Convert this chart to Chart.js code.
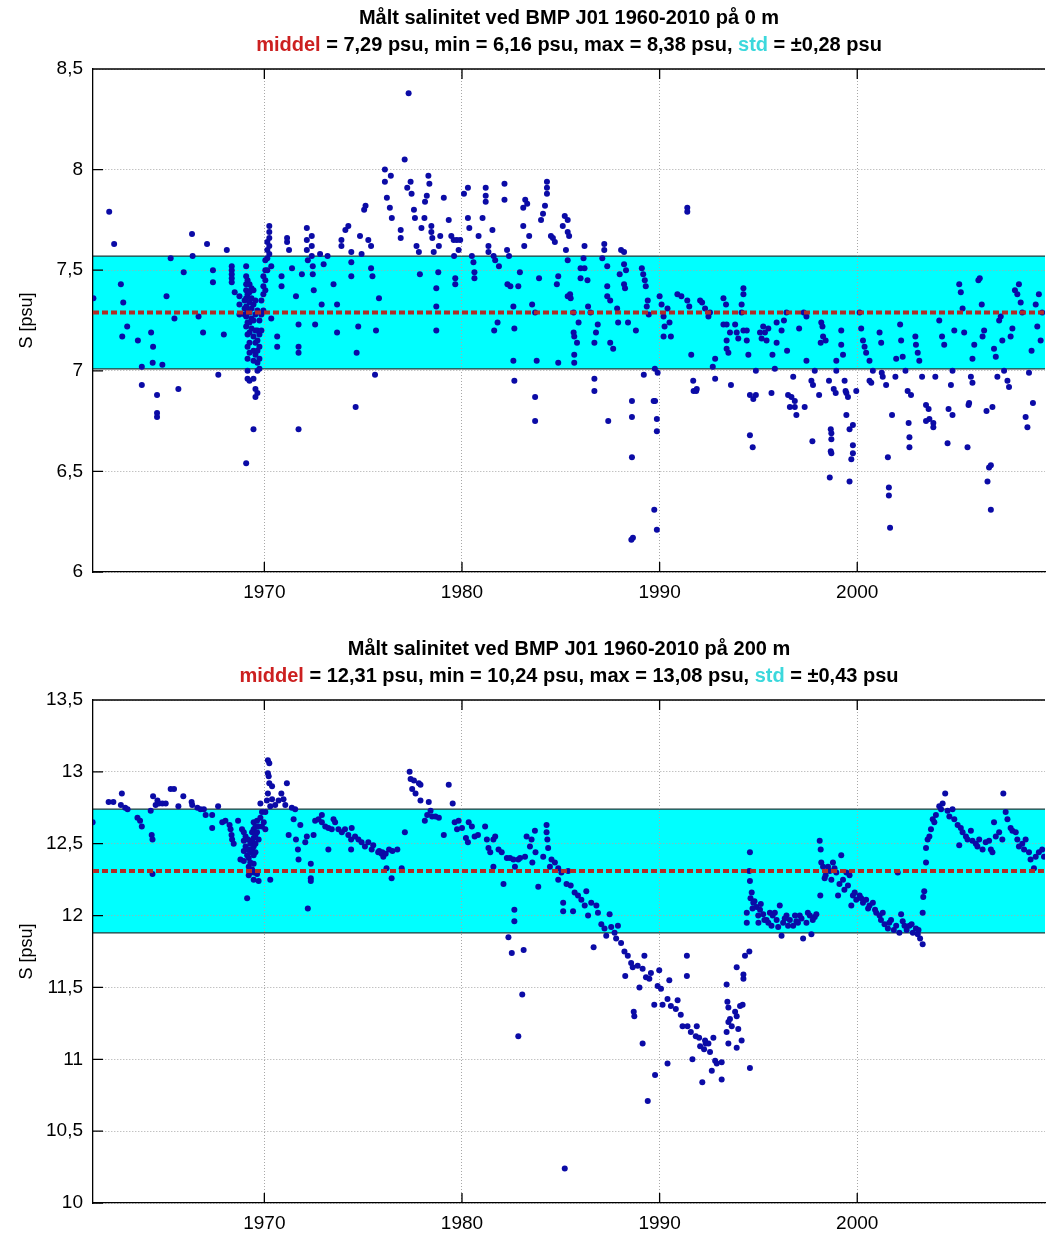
<!DOCTYPE html>
<html>
<head>
<meta charset="utf-8">
<script src="https://cdn.jsdelivr.net/npm/chart.js@4.4.0/dist/chart.umd.min.js"></script>
<style>
  body { margin: 0; background: #fff; overflow: hidden; }
  canvas { display: block; }
</style>
</head>
<body>
<canvas id="chart0" width="1049" height="631"></canvas>
<canvas id="chart200" width="1049" height="606"></canvas>
<script>
// x axis (years)
const xRange = [1961.33, 2009.5];
const xTicks = [1970, 1980, 1990, 2000];

// 0 m
const depth0 = 0;
const mean0 = 7.29, min0 = 6.16, max0 = 8.38, std0 = 0.28;
const yTicks0 = [6, 6.5, 7, 7.5, 8, 8.5];
const obs0 = [
  [1961.35,7.36],[1962.15,7.79],[1962.4,7.63],[1962.74,7.43],[1962.86,7.34],[1962.81,7.17],[1963.06,7.22],[1963.6,7.15],
  [1963.8,7.02],[1963.8,6.93],[1964.27,7.19],[1964.37,7.12],[1964.35,7.04],[1964.57,6.88],[1964.57,6.79],[1964.57,6.77],
  [1964.84,7.03],[1965.05,7.37],[1965.26,7.56],[1965.45,7.26],[1965.65,6.91],[1965.92,7.49],[1966.34,7.68],[1966.37,7.57],
  [1966.67,7.27],[1966.9,7.19],[1967.1,7.63],[1967.4,7.50],[1967.4,7.44],[1967.67,6.98],[1967.95,7.18],[1968.1,7.60],
  [1968.35,7.52],[1968.35,7.50],[1968.35,7.48],[1968.35,7.46],[1968.35,7.44],[1968.5,7.39],[1968.74,7.37],[1968.74,7.33],
  [1968.74,7.28],[1969.0,7.35],[1969.0,7.31],[1969.0,7.28],
  [1969.08,7.52],[1969.08,7.47],[1969.08,7.43],[1969.08,7.40],[1969.08,7.36],[1969.08,7.32],[1969.08,7.27],[1969.08,7.22],[1969.08,6.54],
  [1969.15,7.45],[1969.15,7.38],[1969.15,7.30],[1969.15,7.24],[1969.15,7.18],[1969.15,7.12],[1969.15,7.06],[1969.15,7.00],[1969.15,6.96],
  [1969.25,7.43],[1969.25,7.39],[1969.25,7.34],[1969.25,7.29],[1969.25,7.24],[1969.25,7.19],[1969.25,7.14],[1969.25,7.09],[1969.25,6.95],
  [1969.35,7.41],[1969.35,7.36],[1969.35,7.31],[1969.35,7.26],[1969.35,7.21],
  [1969.45,7.40],[1969.45,7.33],[1969.45,7.25],[1969.45,7.17],[1969.45,7.10],[1969.45,7.05],[1969.45,6.96],[1969.45,6.71],
  [1969.55,7.35],[1969.55,7.28],[1969.55,7.20],[1969.55,7.14],[1969.55,7.08],[1969.55,6.91],[1969.55,6.87],
  [1969.65,7.30],[1969.65,7.20],[1969.65,7.15],[1969.65,7.10],[1969.65,7.04],[1969.65,7.00],[1969.65,6.89],
  [1969.75,7.25],[1969.75,7.18],[1969.75,7.12],[1969.75,7.06],[1969.75,7.01],
  [1969.85,7.20],[1969.85,7.28],[1969.85,7.35],[1969.95,7.30],[1969.95,7.38],[1969.95,7.42],[1969.95,7.47],
  [1970.05,7.40],[1970.05,7.45],[1970.05,7.50],[1970.05,7.55],[1970.15,7.50],[1970.15,7.56],[1970.15,7.60],[1970.15,7.64],
  [1970.25,7.58],[1970.25,7.62],[1970.25,7.66],[1970.25,7.69],[1970.25,7.72],
  [1970.35,7.52],[1970.35,7.26],[1970.65,7.17],[1970.65,7.12],[1970.87,7.47],[1970.87,7.42],[1971.15,7.66],[1971.15,7.64],
  [1971.25,7.60],[1971.4,7.51],[1971.6,7.37],[1971.73,7.23],[1971.73,7.12],[1971.73,7.09],[1971.73,6.71],[1971.9,7.48],
  [1972.15,7.71],[1972.15,7.65],[1972.15,7.60],[1972.2,7.55],[1972.4,7.67],[1972.4,7.62],[1972.4,7.57],[1972.45,7.52],
  [1972.45,7.48],[1972.5,7.40],[1972.57,7.23],[1972.82,7.58],[1972.9,7.33],[1973.0,7.53],[1973.2,7.57],[1973.5,7.43],
  [1973.68,7.33],[1973.68,7.19],[1973.9,7.65],[1973.9,7.62],[1974.1,7.70],[1974.25,7.72],[1974.4,7.59],[1974.4,7.54],
  [1974.4,7.47],[1974.62,6.82],[1974.67,7.09],[1974.75,7.22],[1974.84,7.67],[1974.92,7.58],[1975.05,7.80],[1975.12,7.82],
  [1975.26,7.65],[1975.4,7.62],[1975.4,7.51],[1975.47,7.47],[1975.6,6.98],[1975.65,7.20],[1975.8,7.36],
  [1976.1,8.0],[1976.1,7.94],[1976.2,7.86],[1976.4,7.97],[1976.35,7.81],[1976.45,7.76],[1976.9,7.70],[1976.9,7.66],
  [1977.1,8.05],[1977.3,8.38],[1977.23,7.91],[1977.4,7.94],[1977.45,7.88],[1977.57,7.80],[1977.62,7.76],[1977.7,7.62],
  [1977.82,7.59],[1977.87,7.48],[1977.95,7.71],[1978.1,7.76],[1978.13,7.84],[1978.22,7.87],[1978.3,7.97],[1978.35,7.93],
  [1978.45,7.72],[1978.45,7.69],[1978.5,7.66],[1978.57,7.59],[1978.7,7.41],[1978.7,7.32],[1978.7,7.20],[1978.8,7.49],
  [1978.83,7.62],[1978.9,7.67],[1979.08,7.86],[1979.33,7.75],[1979.46,7.67],[1979.58,7.65],[1979.6,7.57],[1979.66,7.46],
  [1979.66,7.43],[1979.74,7.65],[1979.83,7.60],[1979.91,7.65],[1980.1,7.88],[1980.3,7.91],[1980.3,7.76],[1980.37,7.71],
  [1980.5,7.57],[1980.58,7.54],[1980.63,7.49],[1980.63,7.46],[1980.84,7.67],[1981.04,7.76],[1981.2,7.91],[1981.2,7.87],
  [1981.2,7.84],[1981.34,7.62],[1981.34,7.59],[1981.54,7.70],[1981.6,7.57],[1981.68,7.55],[1981.63,7.20],[1981.8,7.24],
  [1981.87,7.52],[1982.15,7.93],[1982.15,7.85],[1982.28,7.60],[1982.38,7.57],[1982.3,7.43],[1982.45,7.42],[1982.6,7.32],
  [1982.6,7.05],[1982.65,7.21],[1982.65,6.95],[1982.85,7.42],[1982.93,7.49],[1983.1,7.81],[1983.1,7.72],[1983.2,7.85],
  [1983.3,7.83],[1983.4,7.67],[1983.15,7.62],[1983.55,7.33],[1983.7,7.29],[1983.7,6.87],[1983.7,6.75],[1983.78,7.05],
  [1983.9,7.46],[1984.0,7.75],[1984.1,7.78],[1984.2,7.82],[1984.3,7.88],[1984.3,7.94],[1984.3,7.91],[1984.5,7.67],
  [1984.6,7.66],[1984.7,7.64],[1984.87,7.47],[1984.87,7.04],[1984.8,7.43],[1985.1,7.72],[1985.2,7.77],[1985.35,7.75],
  [1985.35,7.69],[1985.42,7.67],[1985.26,7.60],[1985.35,7.55],[1985.47,7.38],[1985.35,7.37],[1985.5,7.36],[1985.65,7.29],
  [1985.65,7.19],[1985.68,7.17],[1985.82,7.14],[1985.68,7.08],[1985.68,7.04],[1985.9,7.24],[1986.2,7.62],[1986.15,7.56],
  [1986.0,7.51],[1986.2,7.51],[1986.0,7.46],[1986.35,7.45],[1986.38,7.32],[1986.5,7.29],[1986.7,6.96],[1986.7,6.90],
  [1986.78,7.19],[1986.7,7.14],[1986.87,7.23],[1987.2,7.63],[1987.2,7.60],[1987.1,7.56],[1987.35,7.52],[1987.35,7.42],
  [1987.35,7.37],[1987.5,7.35],[1987.4,6.75],[1987.5,7.14],[1987.65,7.11],[1987.85,7.31],[1987.9,7.24],[1987.98,7.48],
  [1988.05,7.60],[1988.2,7.59],[1988.2,7.53],[1988.2,7.43],[1988.25,7.41],[1988.3,7.50],[1988.4,7.24],[1988.6,6.85],
  [1988.6,6.77],[1988.6,6.57],[1988.8,7.20],[1988.65,6.17],[1988.57,6.16],[1989.1,7.51],[1989.17,7.48],[1989.25,7.45],
  [1989.3,7.42],[1989.4,7.35],[1989.2,6.98],[1989.35,7.32],[1989.45,7.28],[1989.7,6.85],[1989.77,6.85],[1989.86,6.76],
  [1989.86,6.70],[1989.73,6.31],[1989.86,6.21],[1989.76,7.01],[1989.9,6.99],[1990.0,7.37],[1990.1,7.33],[1990.2,7.27],
  [1990.25,7.22],[1990.2,7.17],[1990.4,7.31],[1990.5,7.24],[1990.57,7.17],[1990.9,7.38],[1991.1,7.37],[1991.4,7.81],
  [1991.4,7.79],[1991.4,7.35],[1991.5,7.32],[1991.6,7.08],[1991.7,6.95],[1991.85,6.90],[1991.72,6.90],[1992.15,7.34],
  [1992.3,7.31],
  [1991.88,6.91],[1992.05,7.35],[1992.55,7.29],[1992.47,7.27],[1992.69,7.02],[1992.81,7.06],[1992.81,6.96],[1993.23,7.36],
  [1993.36,7.33],[1993.23,7.23],[1993.39,7.23],[1993.39,7.15],[1993.39,7.11],[1993.48,7.09],[1993.56,7.19],[1993.61,6.93],
  [1993.82,7.23],[1993.9,7.19],[1993.98,7.16],[1994.24,7.41],[1994.24,7.38],[1994.15,7.33],[1994.15,7.29],[1994.24,7.20],
  [1994.41,7.20],[1994.41,7.15],[1994.49,7.08],[1994.57,6.68],[1994.71,6.62],[1994.57,6.88],[1994.74,6.86],[1994.87,6.88],
  [1994.87,7.00],[1995.08,7.19],[1995.16,7.16],[1995.24,7.22],[1995.33,7.19],[1995.41,7.15],[1995.5,7.21],[1995.66,6.89],
  [1995.71,7.08],[1995.83,7.01],[1995.92,7.24],[1995.92,7.14],[1996.17,7.20],[1996.29,7.25],[1996.42,7.29],[1996.45,7.10],
  [1996.5,6.88],[1996.67,6.87],[1996.84,6.85],[1996.59,6.82],[1996.84,6.82],[1996.92,6.78],[1996.76,6.97],[1997.06,7.21],
  [1997.29,7.29],[1997.43,7.27],[1997.34,6.82],[1997.43,7.05],[1997.68,6.95],[1997.76,6.93],[1997.73,6.65],[1997.85,7.00],
  [1998.07,6.88],[1998.18,7.24],[1998.24,7.22],[1998.27,7.17],[1998.4,7.15],[1998.15,7.14],[1998.57,6.95],[1998.61,6.47],
  [1998.66,6.71],[1998.69,6.69],[1998.69,6.66],[1998.66,6.60],[1998.69,6.59],[1998.81,6.91],[1998.91,6.89],[1998.94,7.00],
  [1998.94,7.05],[1999.19,7.20],[1999.19,7.13],[1999.28,7.08],[1999.36,6.95],[1999.41,6.90],[1999.45,6.89],[1999.53,6.87],
  [1999.45,6.78],[1999.61,6.71],[1999.61,6.45],[1999.7,6.56],[1999.78,6.59],[1999.78,6.63],[1999.78,6.73],[1999.95,6.90],
  [2000.12,7.29],[2000.2,7.21],[2000.29,7.15],[2000.37,7.12],[2000.45,7.09],[2000.62,7.05],[2000.62,6.95],[2000.71,6.94],
  [2000.79,7.00],[2001.13,7.19],[2001.21,7.14],[2001.24,6.99],[2001.29,6.97],[2001.55,6.57],[2001.6,6.42],[2001.6,6.38],
  [2001.66,6.22],[2001.46,6.93],[2001.76,6.78],[2001.93,6.97],[2001.97,7.06],[2002.17,7.23],[2002.22,7.15],[2002.3,7.07],
  [2002.44,7.00],[2002.55,6.90],[2002.72,6.88],[2002.6,6.74],[2002.64,6.67],[2002.64,6.62],[2002.94,7.17],[2002.97,7.13],
  [2003.06,7.09],[2003.14,7.05],[2003.28,6.97],[2003.48,6.83],[2003.61,6.81],[2003.48,6.75],[2003.65,6.76],[2003.85,6.74],
  [2003.85,6.72],[2003.95,6.97],[2004.15,7.25],[2004.29,7.17],[2004.4,7.13],[2004.57,6.64],[2004.62,6.81],[2004.82,6.78],
  [2004.74,6.93],[2004.82,7.00],[2004.91,7.20],[2005.16,7.43],[2005.24,7.39],[2005.33,7.31],[2005.41,7.19],[2005.58,6.62],
  [2005.63,6.83],[2005.66,6.84],[2005.75,6.97],[2005.83,6.94],[2005.83,7.06],[2005.92,7.13],[2006.13,7.45],[2006.2,7.46],
  [2006.3,7.33],[2006.34,7.17],[2006.42,7.20],[2006.54,6.80],[2006.59,6.45],[2006.76,6.53],[2006.67,6.52],[2006.76,6.31],
  [2006.84,6.82],[2006.92,7.11],[2007.01,7.07],[2007.09,6.97],[2007.18,7.25],[2007.26,7.27],[2007.34,7.15],[2007.43,7.00],
  [2007.6,6.95],[2007.68,6.92],[2007.76,7.17],[2007.85,7.21],[2007.98,7.40],[2008.1,7.38],[2008.18,7.43],[2008.27,7.34],
  [2008.35,7.29],[2008.52,6.77],[2008.61,6.72],[2008.69,6.99],[2008.82,7.10],[2008.89,6.84],[2009.03,7.33],[2009.11,7.22],
  [2009.19,7.38],[2009.28,7.15],[2009.36,7.29]
];

// 200 m
const depth200 = 200;
const mean200 = 12.31, min200 = 10.24, max200 = 13.08, std200 = 0.43;
const yTicks200 = [10, 10.5, 11, 11.5, 12, 12.5, 13, 13.5];
const obs200 = [
  [1961.31,12.65],[1962.12,12.79],[1962.36,12.79],[1962.79,12.85],[1962.74,12.77],[1962.96,12.75],[1963.08,12.74],[1963.58,12.68],
  [1963.71,12.66],[1963.8,12.62],[1964.25,12.73],[1964.37,12.83],[1964.5,12.77],[1964.59,12.80],[1964.67,12.78],[1964.3,12.56],
  [1964.34,12.53],[1964.34,12.29],[1964.84,12.78],[1965.01,12.78],[1965.26,12.88],[1965.43,12.88],[1965.65,12.76],[1965.9,12.83],
  [1966.32,12.79],[1966.35,12.77],[1966.61,12.75],[1966.77,12.74],[1966.94,12.74],[1967.03,12.70],[1967.36,12.70],[1967.36,12.61],
  [1967.66,12.76],[1967.87,12.65],[1968.03,12.66],[1968.24,12.63],[1968.29,12.60],[1968.34,12.56],[1968.37,12.53],[1968.45,12.50],
  [1968.67,12.66],[1968.79,12.39],[1968.87,12.60],
  [1968.96,12.58],[1968.96,12.52],[1968.96,12.45],[1968.96,12.38],[1969.05,12.55],[1969.05,12.48],[1969.13,12.12],[1969.13,12.42],
  [1969.18,12.53],[1969.18,12.46],[1969.21,12.40],[1969.21,12.34],[1969.21,12.28],[1969.29,12.50],[1969.29,12.44],[1969.29,12.37],
  [1969.29,12.30],[1969.38,12.58],[1969.38,12.52],[1969.38,12.46],[1969.38,12.32],[1969.46,12.65],[1969.46,12.60],[1969.46,12.54],
  [1969.46,12.48],[1969.46,12.42],[1969.46,12.36],[1969.46,12.30],[1969.46,12.25],[1969.55,12.62],[1969.55,12.56],[1969.55,12.50],
  [1969.55,12.44],[1969.63,12.29],[1969.63,12.58],[1969.63,12.66],[1969.71,12.24],[1969.71,12.53],[1969.71,12.62],[1969.8,12.78],
  [1969.8,12.68],[1969.88,12.72],[1969.88,12.62],[1969.97,12.65],[1970.05,12.60],[1970.05,12.72],[1970.13,12.80],[1970.18,13.08],
  [1970.25,13.06],[1970.18,12.99],[1970.22,12.97],[1970.25,12.92],[1970.39,12.90],[1970.18,12.85],[1970.39,12.81],[1970.3,12.25],
  [1970.3,12.76],[1970.55,12.77],[1970.72,12.80],[1970.86,12.85],[1970.97,12.81],[1971.06,12.77],[1971.14,12.92],[1971.23,12.56],
  [1971.39,12.75],[1971.48,12.67],[1971.56,12.74],[1971.6,12.53],[1971.7,12.46],[1971.73,12.39],[1971.82,12.63],[1972.07,12.51],
  [1972.2,12.05],[1972.15,12.55],[1972.35,12.36],[1972.35,12.26],[1972.35,12.24],[1972.49,12.56],[1972.57,12.66],[1972.74,12.67],
  [1972.91,12.65],[1972.91,12.70],[1973.08,12.62],[1973.24,12.61],[1973.41,12.60],[1973.24,12.46],[1973.5,12.67],[1973.58,12.65],
  [1973.75,12.60],[1973.92,12.58],[1974.08,12.60],[1974.25,12.56],[1974.39,12.53],[1974.39,12.46],[1974.42,12.61],[1974.59,12.55],
  [1974.76,12.53],[1974.92,12.51],[1975.09,12.48],[1975.26,12.51],[1975.43,12.46],[1975.51,12.49],[1975.76,12.44],[1975.93,12.43],
  [1976.02,12.41],[1976.18,12.33],
  [1975.81,12.45],[1975.97,12.44],[1976.14,12.43],[1976.31,12.46],[1976.48,12.45],[1976.73,12.46],[1976.44,12.26],[1976.95,12.33],
  [1977.11,12.58],[1977.35,13.0],[1977.4,12.95],[1977.57,12.94],[1977.48,12.88],[1977.65,12.85],[1977.82,12.92],[1977.9,12.91],
  [1977.9,12.80],[1978.12,12.66],[1978.24,12.70],[1978.32,12.79],[1978.41,12.73],[1978.49,12.69],[1978.66,12.69],[1978.83,12.68],
  [1979.08,12.56],[1979.33,12.91],[1979.53,12.78],[1979.63,12.65],[1979.75,12.60],[1979.83,12.66],[1980.0,12.61],[1980.2,12.54],
  [1980.3,12.51],[1980.34,12.65],[1980.5,12.62],[1980.64,12.55],[1980.81,12.56],[1981.17,12.62],[1981.26,12.53],[1981.34,12.47],
  [1981.43,12.44],[1981.59,12.53],[1981.59,12.34],[1981.68,12.55],[1981.85,12.46],[1982.01,12.44],[1982.1,12.22],[1982.27,12.40],
  [1982.43,12.40],[1982.6,12.39],[1982.35,11.85],[1982.52,11.74],[1982.65,12.04],[1982.65,11.96],[1982.85,11.16],[1982.68,12.34],
  [1982.85,12.39],[1982.94,12.40],[1983.05,11.45],[1983.12,11.76],[1983.19,12.41],[1983.27,12.55],[1983.44,12.48],[1983.52,12.53],
  [1983.56,12.37],[1983.69,12.59],[1983.72,12.44],[1983.86,12.20],[1984.11,12.41],[1984.28,12.63],[1984.28,12.58],[1984.32,12.53],
  [1984.36,12.47],[1984.45,12.34],[1984.53,12.39],[1984.7,12.37],[1984.87,12.33],[1984.87,12.25],[1985.03,12.30],[1985.12,12.09],
  [1985.12,12.03],[1985.2,10.24],[1985.29,12.22],[1985.37,12.31],[1985.5,12.21],[1985.62,12.03],[1985.7,12.16],[1985.87,12.14],
  [1986.04,12.11],[1986.21,12.07],[1986.29,12.17],[1986.38,12.0],[1986.54,12.09],[1986.66,11.78],[1986.8,12.07],[1986.88,12.02],
  [1987.05,11.94],[1987.21,11.91],[1987.3,11.86],[1987.47,12.01],[1987.55,11.92],[1987.72,11.88],[1987.8,11.84],[1987.89,11.93],
  [1988.05,11.81],[1988.22,11.75],[1988.26,11.58],[1988.39,11.72],[1988.56,11.67],[1988.64,11.64],[1988.72,11.30],[1988.69,11.33],
  [1988.89,11.65],[1988.98,11.50],[1989.14,11.11],[1989.14,11.63],[1989.23,11.72],[1989.31,11.57],[1989.48,11.56],[1989.4,10.71],
  [1989.56,11.60],[1989.73,11.38],[1989.77,10.89],[1989.9,11.51],[1989.98,11.62],[1990.07,11.49],[1990.15,11.38],[1990.4,10.97],
  [1990.4,11.42],[1990.49,11.55],[1990.57,11.37],[1990.82,11.35],[1990.91,11.41],[1991.07,11.31],[1991.16,11.23],[1991.38,11.72],
  [1991.38,11.58],[1991.41,11.23],[1991.58,11.19],[1991.66,11.0],[1991.83,11.16],[1992.0,11.15],[1992.16,10.84],[1992.25,11.07],
  [1992.33,11.11],
  [1991.88,11.23],[1992.05,11.09],[1992.3,11.13],[1992.47,11.11],[1992.55,11.05],[1992.64,10.92],[1992.81,10.99],[1992.89,10.97],
  [1992.72,11.15],[1993.14,10.86],[1993.14,10.98],[1993.39,11.52],[1993.43,11.40],[1993.48,11.36],[1993.48,11.26],[1993.56,11.28],
  [1993.65,11.23],[1993.39,11.19],[1993.48,11.11],[1993.82,11.33],[1993.9,11.30],[1993.9,11.08],[1993.98,11.21],[1994.07,11.37],
  [1994.2,11.38],[1994.15,11.13],[1993.9,11.64],[1994.24,11.59],[1994.24,11.56],[1994.32,11.72],[1994.54,11.75],[1994.57,10.94],
  [1994.41,11.95],[1994.41,12.02],[1994.57,12.44],[1994.54,12.31],[1994.57,12.24],[1994.66,12.16],[1994.74,12.09],[1994.91,12.06],
  [1994.99,12.0],[1995.08,12.04],[1995.24,12.01],[1995.41,11.97],[1995.58,12.02],[1995.66,11.93],[1995.83,12.02],[1995.92,11.97],
  [1996.08,12.07],[1996.17,11.86],[1996.25,11.95],[1996.42,12.0],[1996.59,11.97],[1996.76,11.93],[1996.92,11.96],[1997.09,12.0],
  [1997.26,11.84],[1997.43,11.95],[1997.6,12.0],[1997.68,11.87],[1997.85,11.99],[1997.93,12.01],
  [1994.6,12.12],[1994.7,12.05],[1994.8,12.10],[1995.0,11.95],[1995.12,12.08],[1995.3,11.97],[1995.5,11.95],[1995.72,12.0],
  [1996.0,11.92],[1996.33,11.98],[1996.5,11.93],[1996.85,12.0],[1997.0,11.95],[1997.18,11.98],[1997.5,12.02],[1997.75,11.97],
  [1998.1,12.52],[1998.15,12.46],[1998.18,12.37],[1998.27,12.34],[1998.13,12.14],[1998.35,12.26],[1998.52,12.34],[1998.61,12.31],
  [1998.69,12.25],[1998.77,12.37],[1998.94,12.30],[1999.03,12.14],[1999.19,12.42],[1999.28,12.25],[1999.45,12.30],[1999.53,12.21],
  [1999.61,12.28],[1999.7,12.07],[1999.78,12.14],[1999.95,12.11],[2000.12,12.14],[2000.29,12.09],[2000.45,12.11],[2000.62,12.07],
  [2000.79,12.09],[2000.96,12.02],[2001.13,12.0],[2001.29,12.02],[2001.38,11.94],[2001.55,11.91],[2001.71,11.97],[2001.97,11.93],
  [2002.05,12.30],[2002.13,11.88],[2002.22,12.01],[2002.39,11.93],[2002.64,11.93],[2002.81,11.88],[2002.97,11.91],[2003.06,11.87],
  [2003.18,11.84],[2003.31,11.80],[2003.31,12.02],[2003.34,12.13],[2003.39,12.17],[2003.48,12.37],[2003.48,12.47],[2003.56,12.53],
  [2003.65,12.55],[2003.73,12.60],[2003.82,12.67],[2003.9,12.65],[2003.98,12.70],[2004.15,12.76],[2004.24,12.74],[2004.45,12.85],
  [2004.32,12.78],[2004.57,12.73],[2004.66,12.69],[2004.82,12.74],[2004.91,12.67],[2005.08,12.63],[2005.16,12.49],[2005.24,12.61],
  [2005.33,12.58],[2005.5,12.55],[2005.58,12.53],[2005.75,12.59],[2005.83,12.52],[2006.0,12.50],[2006.08,12.48],[2006.17,12.53],
  [2006.34,12.46],[2006.5,12.51],[2006.67,12.52],[2006.76,12.46],[2006.84,12.44],[2006.92,12.65],[2007.01,12.55],[2007.18,12.58],
  [2007.34,12.53],[2007.39,12.85],[2007.51,12.72],[2007.6,12.67],[2007.76,12.61],[2007.85,12.59],[2008.02,12.58],[2008.1,12.53],
  [2008.18,12.48],[2008.35,12.50],[2008.44,12.46],[2008.52,12.53],[2008.69,12.44],[2008.77,12.39],[2008.94,12.33],[2009.03,12.41],
  [2009.19,12.44],[2009.36,12.46],[2009.45,12.41],
  [1998.4,12.28],[1998.85,12.33],[1999.1,12.22],[1999.35,12.18],[1999.87,12.16],[2000.2,12.12],[2000.55,12.05],[2000.9,12.04],
  [2001.2,11.97],[2001.62,11.95],[2001.85,11.90],[2002.3,11.96],[2002.5,11.90],[2002.75,11.94],[2003.1,11.90]
];

Chart.defaults.font.family = "'Liberation Sans', Arial, sans-serif";
Chart.defaults.color = "#000";

const comma = v => String(v).replace(".", ",");

const panelPlugin = {
  id: "panel",
  beforeDraw(chart, args, opts) {
    // std band (under grid)
    const { ctx, chartArea: a, scales: { y } } = chart;
    const top = y.getPixelForValue(opts.mean + opts.std);
    const bot = y.getPixelForValue(opts.mean - opts.std);
    ctx.save();
    ctx.fillStyle = "#00ffff";
    ctx.fillRect(a.left, top, a.right - a.left, bot - top);
    ctx.strokeStyle = "#1c3a3a";
    ctx.lineWidth = 1.3;
    ctx.beginPath();
    ctx.moveTo(a.left, top); ctx.lineTo(a.right, top);
    ctx.moveTo(a.left, bot); ctx.lineTo(a.right, bot);
    ctx.stroke();
    ctx.restore();
  },
  afterDraw(chart, args, opts) {
    const { ctx, chartArea: a, scales: { x, y } } = chart;
    ctx.save();
    // top border and inward tick marks
    ctx.strokeStyle = "#000";
    ctx.lineWidth = 1.3;
    ctx.beginPath();
    ctx.moveTo(a.left, a.top); ctx.lineTo(a.right, a.top);
    y.ticks.forEach(t => {
      const py = y.getPixelForValue(t.value);
      ctx.moveTo(a.left, py); ctx.lineTo(a.left + 10, py);
    });
    x.ticks.forEach(t => {
      const px = x.getPixelForValue(t.value);
      ctx.moveTo(px, a.bottom); ctx.lineTo(px, a.bottom - 10);
      ctx.moveTo(px, a.top); ctx.lineTo(px, a.top + 10);
    });
    ctx.stroke();

    // titles
    const cx = (a.left + a.right) / 2;
    ctx.textBaseline = "middle";
    ctx.font = "bold 20px 'Liberation Sans', Arial, sans-serif";
    ctx.textAlign = "center";
    ctx.fillStyle = "#000";
    ctx.fillText(`Målt salinitet ved BMP J01 1960-2010 på ${opts.depth} m`, cx, a.top - 51);

    const parts = [
      ["middel", "#cc2020"],
      [` = ${comma(opts.mean)} psu, min = ${comma(opts.min)} psu, max = ${comma(opts.max)} psu, `, "#000"],
      ["std", "#3cd8dc"],
      [` = ±${comma(opts.std)} psu`, "#000"]
    ];
    const total = parts.reduce((s, p) => s + ctx.measureText(p[0]).width, 0);
    let px = cx - total / 2;
    ctx.textAlign = "left";
    parts.forEach(([txt, col]) => {
      ctx.fillStyle = col;
      ctx.fillText(txt, px, a.top - 24);
      px += ctx.measureText(txt).width;
    });
    ctx.restore();
  }
};

function makePanel(canvasId, obs, yTicks, mean, std, min, max, depth) {
  const canvas = document.getElementById(canvasId);
  const axisHeight = canvas.height - 572;
  new Chart(canvas, {
    type: "scatter",
    data: {
      datasets: [
        {
          type: "line",
          data: [{ x: xRange[0], y: mean }, { x: xRange[1], y: mean }],
          borderColor: "#b02c28",
          borderWidth: 4,
          borderDash: [6, 3],
          pointRadius: 0,
          order: 0
        },
        {
          data: obs.map(d => ({ x: d[0], y: d[1] })),
          pointRadius: 3,
          pointBackgroundColor: "#0b0ba6",
          pointBorderWidth: 0,
          order: 1
        }
      ]
    },
    options: {
      responsive: false,
      animation: false,
      layout: { padding: { top: 69, left: 0, right: 0, bottom: 0 } },
      plugins: {
        legend: { display: false },
        tooltip: { enabled: false },
        panel: { mean, std, min, max, depth }
      },
      scales: {
        x: {
          type: "linear",
          min: xRange[0],
          max: xRange[1],
          afterBuildTicks: axis => { axis.ticks = xTicks.map(v => ({ value: v })); },
          afterFit: axis => { axis.height = axisHeight; },
          ticks: { callback: v => String(v), font: { size: 19 }, padding: 9, maxRotation: 0, color: "#000" },
          grid: { color: "#a8a8a8", lineWidth: 1, drawTicks: false, tickLength: 0 },
          border: { display: true, color: "#000", width: 1.3, dash: [1, 2] }
        },
        y: {
          min: yTicks[0],
          max: yTicks[yTicks.length - 1],
          afterBuildTicks: axis => { axis.ticks = yTicks.map(v => ({ value: v })); },
          afterFit: axis => { axis.width = 93; },
          ticks: { callback: v => comma(v), font: { size: 19 }, padding: 10, color: "#000" },
          grid: { color: "#a8a8a8", lineWidth: 1, drawTicks: false, tickLength: 0 },
          border: { display: true, color: "#000", width: 1.3, dash: [1, 2] },
          title: { display: true, text: "S [psu]", font: { size: 18 }, padding: { top: 16 }, color: "#000" }
        }
      }
    },
    plugins: [panelPlugin]
  });
}

makePanel("chart0", obs0, yTicks0, mean0, std0, min0, max0, depth0);
makePanel("chart200", obs200, yTicks200, mean200, std200, min200, max200, depth200);
</script>
</body>
</html>
